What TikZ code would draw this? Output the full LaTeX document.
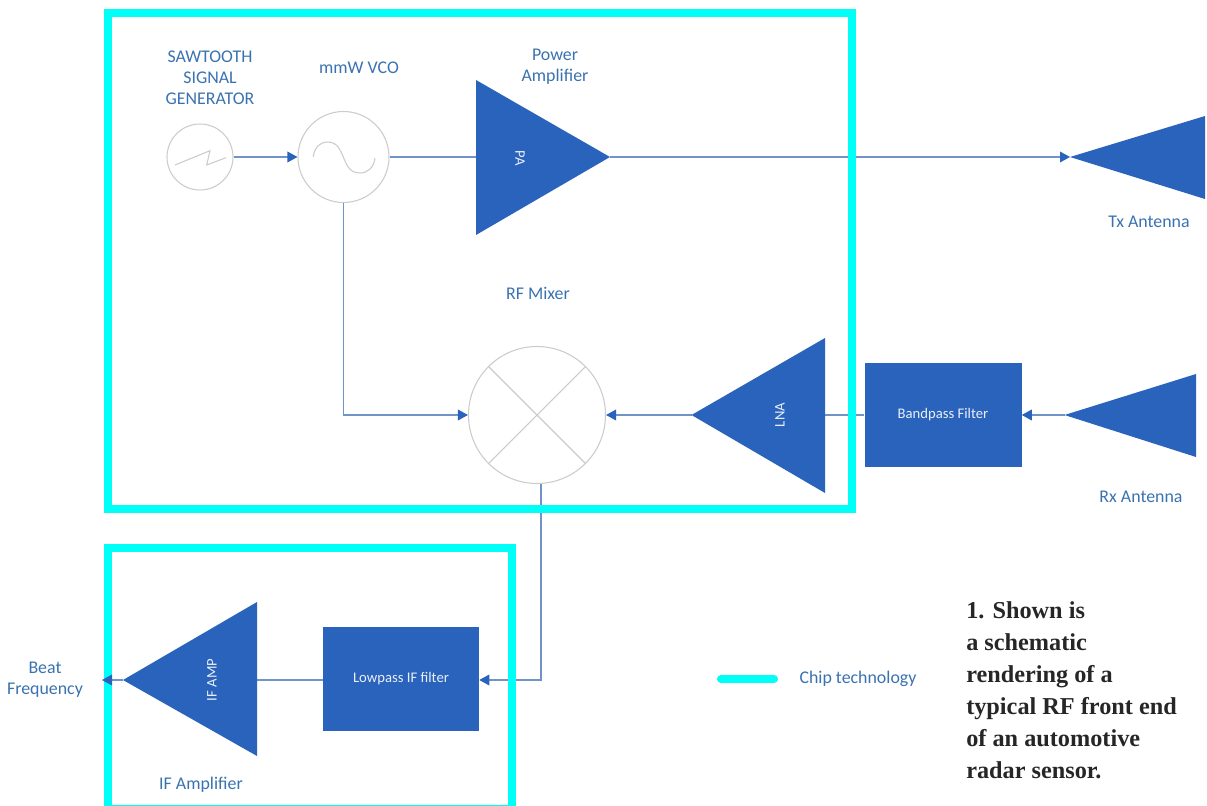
\documentclass[tikz,border=0pt]{standalone}
\usepackage{fontspec}
\setmainfont{Carlito}
\newfontfamily\capfont{Liberation Serif}
\usetikzlibrary{arrows.meta}
\definecolor{cy}{HTML}{00FFF6}
\definecolor{bl}{HTML}{2A63BC}
\definecolor{ln}{HTML}{7094C8}
\definecolor{tx}{HTML}{3A72B0}
\definecolor{gr}{HTML}{CCCCCC}
\tikzset{
 frameline/.style={draw=cy,line width=6pt},
 gcirc/.style={circle,draw=gr,line width=0.8pt,fill=white,inner sep=0pt,minimum size=#1*0.75pt},
 bbox/.style={rectangle,fill=bl,inner sep=0pt,text=white!90!bl,font=\fontsize{11}{12}\selectfont},
 wire/.style={draw=ln,line width=1pt},
 arr/.style={wire,-{Triangle[length=7.5pt,width=8pt,color=bl]}},
 lab/.style={text=tx,align=center,font=\fontsize{13.4}{15.6}\selectfont,inner sep=0pt},
 tri/.style={fill=bl},
 tlab/.style={text=white!90!bl,inner sep=0pt,font=\fontsize{11}{12}\selectfont},
 glyph/.style={draw=gr,line width=0.8pt}
}
\begin{document}
\begin{tikzpicture}[x=0.75pt,y=-0.75pt]
\useasboundingbox (0,0) rectangle (1207,806);
% coordinates
\coordinate (paL) at (476,157);
\coordinate (paR) at (610,157);
\coordinate (txA) at (1070,157);
\coordinate (lnaL) at (691.5,415);
\coordinate (lnaR) at (825,415);
\coordinate (rxA) at (1064.5,415);
\coordinate (ifL) at (123,680);
\coordinate (ifR) at (257,680);
\coordinate (beat) at (102,680);
% nodes
\node[gcirc=66] (saw) at (200,157) {};
\node[gcirc=91] (vco) at (343.5,157) {};
\node[gcirc=137] (mix) at (537,415) {};
\node[bbox,minimum width=157*0.75pt,minimum height=104*0.75pt] (bpf) at (943,415) {\raisebox{-1.6pt}{Bandpass Filter}};
\node[bbox,minimum width=156*0.75pt,minimum height=104*0.75pt] (lpf) at (401,679) {\raisebox{-0.8pt}{Lowpass IF filter}};
% connectors
\draw[arr] (saw.east) -- (vco.west);
\draw[wire] (vco.east) -- (paL);
\draw[arr] (paR) -- (txA);
\draw[arr] (vco.south) |- (mix.west);
\draw[arr] (lnaL) -- (mix.east);
\draw[wire] (bpf.west) -- (lnaR);
\draw[arr] (rxA) -- (bpf.east);
\coordinate (drop) at (541,484);
\coordinate (corner) at (541,680);
\draw[arr] (drop) -- (corner) -- (lpf.east |- corner);
\draw[wire] (lpf.west |- ifR) -- (ifR);
% frames
\draw[frameline] (108,13) rectangle (852,509);
\draw[frameline] (108,548) -- (512,548) -- (512,809) -- (108,809) -- cycle;
\draw[arr] (ifL) -- (beat);
% triangles
\fill[tri] (476,80) -- (610,157) -- (476,235) -- cycle;
\fill[tri] (lnaL) -- (825,338) -- (825,493) -- cycle;
\fill[tri] (ifL) -- (257,602) -- (257,756) -- cycle;
\fill[tri] (txA) -- (1205,116) -- (1205,199) -- cycle;
\fill[tri] (rxA) -- (1196,374) -- (1196,457) -- cycle;
\node[tlab,rotate=-90] (pa) at (520,158) {PA};
\node[tlab,rotate=90] (lna) at (780,415) {LNA};
\node[tlab,rotate=90] (ifamp) at (212,680) {IF AMP};
% glyphs
\draw[glyph] (175,165) -- (210,150.7) -- (206.7,165) -- (226,157.7);
\draw[glyph] (313.3,157) .. controls (314,148) and (320,142) .. (327,142) .. controls (338,142) and (340,150) .. (343.5,157.5) .. controls (347,166) and (350,173) .. (360,173) .. controls (368,173) and (374,167) .. (375,158);
\draw[glyph] (mix.45) -- (mix.225);
\draw[glyph] (mix.135) -- (mix.-45);
% labels
\node[lab] (l1) at (210,78) {SAWTOOTH\\SIGNAL\\GENERATOR};
\node[lab] (l2) at (359,68) {mmW VCO};
\node[lab] (l3) at (555,67) {Power\\Amplifier};
\node[lab] (l4) at (538,293) {RF Mixer};
\node[lab] (l5) at (1149,222) {Tx Antenna};
\node[lab] (l6) at (1141,497) {Rx Antenna};
\node[lab] (l7) at (45,680) {Beat\\Frequency};
\node[lab] (l8) at (201,785) {IF Amplifier};
\node[lab] (l9) at (858,679) {Chip technology};
\coordinate (legA) at (721,679);
\coordinate (legB) at (774,679);
\draw[draw=cy,line width=6pt,line cap=round] (legA) -- (legB);
\node[anchor=north west,inner sep=0pt,align=left,font=\capfont\bfseries\fontsize{18.2}{24}\selectfont,text=black!85] (cap) at (966,601) {1. Shown is\\a schematic\\rendering of a\\typical RF front end\\of an automotive\\radar sensor.};
\end{tikzpicture}
\end{document}
